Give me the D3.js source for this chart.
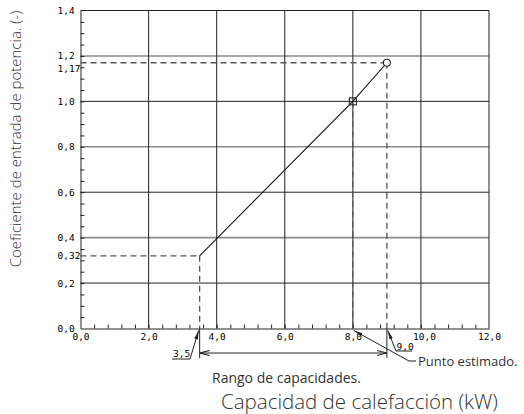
<!DOCTYPE html>
<html>
<head>
<meta charset="utf-8">
<script src="https://cdn.jsdelivr.net/npm/d3@7"></script>
<style>
  body { margin: 0; background: #fff; }
  svg { display: block; }
  .tick text, .num { font-family: 'DejaVu Sans Mono', monospace; font-size: 9.5px; fill: #000; }
  .note { font-family: 'Open Sans', sans-serif; font-weight: 300; fill: #333; }
</style>
</head>
<body>
<div id="chart"></div>
<script>
// values
const xTicks = [0, 2, 4, 6, 8, 10, 12]
const yTicks = [0, 0.2, 0.4, 0.6, 0.8, 1.0, 1.2, 1.4]
const yMarks = [0.32, 1.17]
const curveX = [3.5, 8.0, 9.0]
const curveY = [0.32, 1.0, 1.17]
const rangeX = [3.5, 9.0]
const estimatedX = [8.0]

const width = 524
const height = 414
const plot = { left: 80.5, right: 489, top: 10.5, bottom: 328.5 }

const x = d3.scaleLinear().domain([0, 12]).range([plot.left, plot.right])
const y = d3.scaleLinear().domain([0, 1.4]).range([plot.bottom, plot.top])
const fmt = d => d3.format(d === 0.32 || d === 1.17 ? '.2f' : '.1f')(d).replace('.', ',')

const svg = d3.select('#chart').append('svg')
  .attr('width', width)
  .attr('height', height)

const defs = svg.append('defs')
defs.append('marker')
  .attr('id', 'open')
  .attr('viewBox', '0 0 10 10')
  .attr('refX', 10).attr('refY', 5)
  .attr('markerWidth', 10).attr('markerHeight', 10)
  .attr('markerUnits', 'userSpaceOnUse')
  .attr('orient', 'auto-start-reverse')
  .append('path')
  .attr('d', 'M0,2.5 L10,5 L0,7.5')
  .attr('fill', 'none').attr('stroke', '#222').attr('stroke-width', 1.1)
defs.append('marker')
  .attr('id', 'solid')
  .attr('viewBox', '0 0 10 10')
  .attr('refX', 10).attr('refY', 5)
  .attr('markerWidth', 9).attr('markerHeight', 9)
  .attr('markerUnits', 'userSpaceOnUse')
  .attr('orient', 'auto')
  .append('path')
  .attr('d', 'M0,3 L10,5 L0,7 Z')
  .attr('fill', '#222')

// grid
svg.append('g').selectAll('line')
  .data(yTicks.slice(1))
  .join('line')
  .attr('x1', plot.left).attr('x2', plot.right)
  .attr('y1', d => y(d)).attr('y2', d => y(d))
  .attr('stroke', d => Math.round(d * 10) % 4 === 0 ? '#8a8a8a' : '#222')
  .attr('stroke-width', d => Math.round(d * 10) % 4 === 0 ? 1.6 : 1)

svg.append('g').selectAll('line')
  .data(xTicks.slice(1))
  .join('line')
  .attr('x1', d => x(d)).attr('x2', d => x(d))
  .attr('y1', plot.top).attr('y2', plot.bottom)
  .attr('stroke', '#333')
  .attr('stroke-width', 1.1)

// minor ticks
const yMinor = svg.append('g')
  .attr('transform', `translate(${plot.left},0)`)
  .call(d3.axisRight(y).tickValues(d3.range(0.05, 1.4, 0.05)).tickSize(4).tickFormat(''))
yMinor.select('.domain').remove()
yMinor.selectAll('line').attr('stroke', '#222')

const xMinor = svg.append('g')
  .attr('transform', `translate(0,${plot.bottom})`)
  .call(d3.axisTop(x).tickValues(d3.range(0.4, 12, 0.4)).tickSize(4).tickFormat(''))
xMinor.select('.domain').remove()
xMinor.selectAll('line').attr('stroke', '#222')

// axes with labels
const yAxis = svg.append('g')
  .attr('transform', `translate(${plot.left},0)`)
  .call(d3.axisLeft(y).tickValues(yTicks.concat(yMarks)).tickSize(0).tickFormat(fmt))
yAxis.select('.domain').attr('stroke', '#222')
yAxis.selectAll('text')
  .attr('text-anchor', 'start')
  .attr('x', 57.5 - plot.left)
  .attr('dy', d => d === 1.17 ? '0.95em' : '0.32em')

const xAxis = svg.append('g')
  .attr('transform', `translate(0,${plot.bottom})`)
  .call(d3.axisBottom(x).tickValues(xTicks).tickSize(0).tickPadding(5).tickFormat(fmt))
xAxis.select('.domain').attr('stroke', '#222')
xAxis.selectAll('text').attr('dx', d => d === 10 ? '3' : '0')

// dashed guides
const dashes = svg.append('g')
  .attr('stroke', '#555')
  .attr('stroke-width', 1.3)
  .attr('stroke-dasharray', '6,4')
  .attr('fill', 'none')
curveX.forEach((cx, i) => {
  if (i !== 1) {
    dashes.append('line')
      .attr('x1', plot.left).attr('x2', x(cx))
      .attr('y1', y(curveY[i])).attr('y2', y(curveY[i]))
  }
  dashes.append('line')
    .attr('x1', x(cx)).attr('x2', x(cx))
    .attr('y1', y(curveY[i])).attr('y2', plot.bottom)
})

// curve
svg.append('path')
  .datum(curveX.map((cx, i) => [cx, curveY[i]]))
  .attr('d', d3.line().x(d => x(d[0])).y(d => y(d[1])))
  .attr('fill', 'none')
  .attr('stroke', '#111')
  .attr('stroke-width', 1.1)

svg.append('rect')
  .attr('x', x(curveX[1]) - 3.5).attr('y', y(curveY[1]) - 3.5)
  .attr('width', 7).attr('height', 7)
  .attr('fill', 'none').attr('stroke', '#222').attr('stroke-width', 1.1)

svg.append('circle')
  .attr('cx', x(curveX[2])).attr('cy', y(curveY[2]))
  .attr('r', 3.5)
  .attr('fill', '#fff').attr('stroke', '#222').attr('stroke-width', 1.1)

// capacity range below the axis
const ann = svg.append('g').attr('stroke', '#222').attr('fill', 'none').attr('stroke-width', 1)
rangeX.forEach(v => {
  ann.append('line')
    .attr('x1', x(v)).attr('x2', x(v))
    .attr('y1', plot.bottom).attr('y2', 358)
})
ann.append('line')
  .attr('x1', x(rangeX[0])).attr('x2', x(rangeX[1]))
  .attr('y1', 353).attr('y2', 353)
  .attr('marker-start', 'url(#open)')
  .attr('marker-end', 'url(#open)')

// 3,5 label leader
ann.append('path')
  .attr('d', `M172,359 L190,359 L${x(rangeX[0]) - 1},${plot.bottom + 2}`)
  .attr('marker-end', 'url(#solid)')
svg.append('text').attr('class', 'num')
  .attr('x', 173).attr('y', 357)
  .text(fmt(rangeX[0]))

// 9,0 label leader
ann.append('path')
  .attr('d', `M412,351 L396,351 L${x(rangeX[1]) + 1},${plot.bottom + 2}`)
  .attr('marker-end', 'url(#solid)')
svg.append('text').attr('class', 'num')
  .attr('x', 396.5).attr('y', 349.5)
  .text(fmt(rangeX[1]))

// estimated point leader
ann.append('path')
  .attr('d', `M416,361 L409,361 L${x(estimatedX[0]) + 1},${plot.bottom + 2}`)
  .attr('marker-end', 'url(#solid)')

svg.append('text').attr('class', 'note')
  .attr('x', 418).attr('y', 366)
  .style('font-size', '13px')
  .style('font-weight', 400)
  .text('Punto estimado.')

svg.append('text').attr('class', 'note')
  .attr('x', 212).attr('y', 383)
  .style('font-size', '14px')
  .style('font-weight', 400)
  .text('Rango de capacidades.')

svg.append('text').attr('class', 'note')
  .attr('x', 221).attr('y', 409)
  .style('font-size', '20.5px')
  .text('Capacidad de calefacción (kW)')

svg.append('text').attr('class', 'note')
  .attr('transform', 'translate(21,139) rotate(-90)')
  .attr('text-anchor', 'middle')
  .style('font-size', '15px')
  .text('Coeficiente de entrada de potencia. (-)')
</script>
</body>
</html>
